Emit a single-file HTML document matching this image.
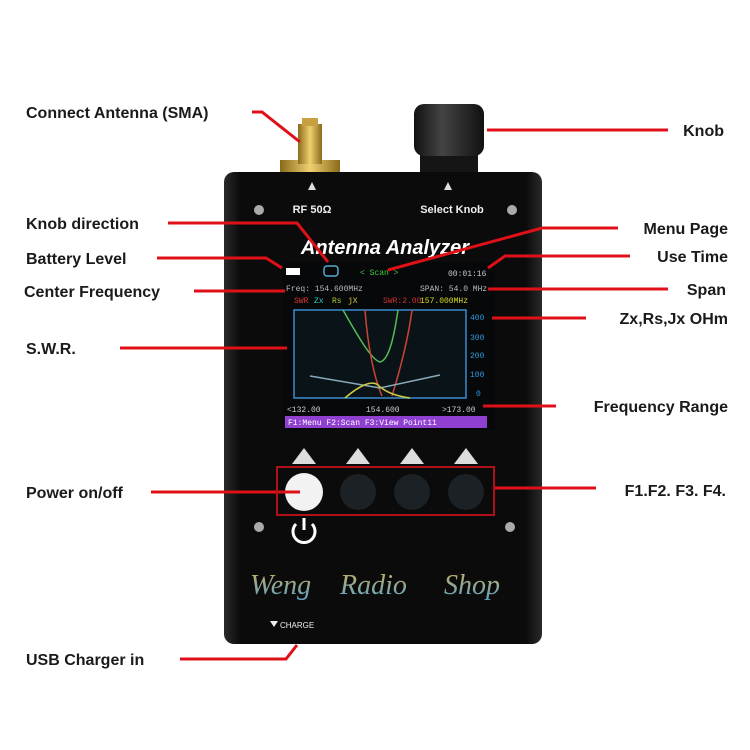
<!DOCTYPE html>
<html><head><meta charset="utf-8"><style>
html,body{margin:0;padding:0;background:#fff;}
svg{display:block}
.l{font-family:"Liberation Sans",Arial,sans-serif;font-weight:bold;font-size:16px;fill:#1a1a1a}
.m{font-family:"Liberation Mono",monospace;font-size:8px}
</style></head><body>
<svg width="750" height="750" viewBox="0 0 750 750" xmlns="http://www.w3.org/2000/svg">
<defs>
<linearGradient id="body" x1="0" x2="1"><stop offset="0" stop-color="#2a2a2a"/><stop offset="0.05" stop-color="#0b0b0b"/><stop offset="0.95" stop-color="#0b0b0b"/><stop offset="1" stop-color="#2a2a2a"/></linearGradient>
<linearGradient id="gold" x1="0" x2="1"><stop offset="0" stop-color="#8a6a1a"/><stop offset="0.5" stop-color="#f0d070"/><stop offset="1" stop-color="#8a6a1a"/></linearGradient>
<linearGradient id="knob" x1="0" x2="1"><stop offset="0" stop-color="#111"/><stop offset="0.4" stop-color="#444"/><stop offset="1" stop-color="#111"/></linearGradient>
<linearGradient id="brand" x1="0" x2="0" y1="0" y2="1"><stop offset="0" stop-color="#c8b060"/><stop offset="1" stop-color="#5aa0c8"/></linearGradient>
</defs>
<!-- SMA -->
<rect x="280" y="160" width="60" height="14" fill="url(#gold)"/>
<rect x="298" y="124" width="24" height="40" fill="url(#gold)"/>
<rect x="302" y="118" width="16" height="8" fill="#c8a040"/>
<!-- knob -->
<rect x="420" y="150" width="58" height="24" fill="#151515"/>
<rect x="414" y="104" width="70" height="52" rx="10" fill="url(#knob)"/>
<!-- body -->
<rect x="224" y="172" width="318" height="472" rx="10" fill="url(#body)"/>
<!-- screws -->
<circle cx="259" cy="210" r="5" fill="#aaa"/><circle cx="512" cy="210" r="5" fill="#aaa"/>
<circle cx="259" cy="527" r="5" fill="#aaa"/><circle cx="510" cy="527" r="5" fill="#aaa"/>
<polygon points="308,190 316,190 312,182" fill="#ddd"/>
<polygon points="444,190 452,190 448,182" fill="#ddd"/>
<text x="312" y="213" text-anchor="middle" font-family="Liberation Sans,sans-serif" font-weight="bold" font-size="11" fill="#eee">RF 50Ω</text>
<text x="452" y="213" text-anchor="middle" font-family="Liberation Sans,sans-serif" font-weight="bold" font-size="11" fill="#eee">Select Knob</text>
<text x="385" y="254" text-anchor="middle" font-family="Liberation Sans,sans-serif" font-weight="bold" font-style="italic" font-size="20" fill="#fff">Antenna Analyzer</text>
<!-- screen -->
<rect x="283" y="262" width="212" height="168" fill="#06080a"/>
<rect x="286" y="268" width="14" height="7" fill="#fff"/>
<rect x="324" y="266" width="14" height="10" rx="3" fill="none" stroke="#5ac" stroke-width="1.5"/>
<text x="360" y="275" class="m" fill="#4c4">&lt; Scan &gt;</text>
<text x="448" y="276" class="m" fill="#ccc">00:01:16</text>
<text x="286" y="291" class="m" fill="#bbb">Freq: 154.600MHz</text>
<text x="420" y="291" class="m" fill="#bbb">SPAN: 54.0 MHz</text>
<text x="294" y="303" class="m" fill="#d33">SWR</text><text x="314" y="303" class="m" fill="#3cc">Zx</text><text x="332" y="303" class="m" fill="#ac3">Rs</text><text x="348" y="303" class="m" fill="#dc3">jX</text>
<text x="383" y="303" class="m" fill="#c33">SWR:2.00</text><text x="420" y="303" class="m" fill="#dd2">157.000MHz</text>
<rect x="294" y="310" width="172" height="88" fill="#0a1418" stroke="#3a8ad0" stroke-width="1.5"/>
<path d="M343,310 C360,340 372,360 380,362 C390,360 395,330 398,310" stroke="#5b5" fill="none" stroke-width="1.5"/>
<path d="M365,310 C368,350 375,380 382,396 M392,396 C400,370 408,340 412,310" stroke="#c43" fill="none" stroke-width="1.5"/>
<path d="M310,376 L380,388 L440,375" stroke="#8ab" fill="none" stroke-width="1.5"/>
<path d="M345,398 C360,385 372,380 378,385 C385,392 395,396 410,398" stroke="#cc4" fill="none" stroke-width="1.5"/>
<text x="470" y="320" class="m" fill="#39d">400</text><text x="470" y="340" class="m" fill="#39d">300</text><text x="470" y="358" class="m" fill="#39d">200</text><text x="470" y="377" class="m" fill="#39d">100</text><text x="476" y="396" class="m" fill="#39d">0</text>
<text x="287" y="412" class="m" fill="#ccc">&lt;132.00</text><text x="366" y="412" class="m" fill="#ccc">154.600</text><text x="442" y="412" class="m" fill="#ccc">&gt;173.00</text>
<rect x="285" y="416" width="202" height="12" fill="#9040d0"/>
<text x="288" y="425" class="m" fill="#fff">F1:Menu F2:Scan F3:View Point11</text>
<!-- buttons -->
<polygon points="292,464 316,464 304,448" fill="#ddd"/>
<polygon points="346,464 370,464 358,448" fill="#ddd"/>
<polygon points="400,464 424,464 412,448" fill="#ddd"/>
<polygon points="454,464 478,464 466,448" fill="#ddd"/>
<circle cx="304" cy="492" r="19" fill="#f2f2f2"/>
<circle cx="358" cy="492" r="18" fill="#1b2124"/>
<circle cx="412" cy="492" r="18" fill="#1b2124"/>
<circle cx="466" cy="492" r="18" fill="#1b2124"/>
<path d="M296,524 A11,11 0 1 0 312,524" stroke="#fff" stroke-width="3" fill="none"/>
<line x1="304" y1="518" x2="304" y2="530" stroke="#fff" stroke-width="3"/>
<text x="250" y="594" font-family="Liberation Serif,serif" font-style="italic" font-size="28" fill="url(#brand)">Weng</text>
<text x="340" y="594" font-family="Liberation Serif,serif" font-style="italic" font-size="28" fill="url(#brand)">Radio</text>
<text x="444" y="594" font-family="Liberation Serif,serif" font-style="italic" font-size="28" fill="url(#brand)">Shop</text>
<polygon points="270,621 278,621 274,627" fill="#eee"/>
<text x="280" y="628" font-family="Liberation Sans,sans-serif" font-size="8" fill="#eee">CHARGE</text>
<!-- red lines -->
<g stroke="#e01018" stroke-width="3" fill="none">
<polyline points="252,112 262,112 300,142"/>
<line x1="487" y1="130" x2="668" y2="130"/>
<polyline points="168,223 297,223 328,262"/>
<polyline points="618,228 542,228 388,270"/>
<polyline points="157,258 266,258 282,268"/>
<polyline points="630,256 505,256 488,268"/>
<line x1="194" y1="291" x2="285" y2="291"/>
<line x1="488" y1="289" x2="668" y2="289"/>
<line x1="492" y1="318" x2="586" y2="318"/>
<line x1="120" y1="348" x2="287" y2="348"/>
<line x1="483" y1="406" x2="556" y2="406"/>
<line x1="151" y1="492" x2="300" y2="492"/>
<line x1="494" y1="488" x2="596" y2="488"/>
<polyline points="180,659 286,659 297,645"/>
</g>
<rect x="277" y="467" width="217" height="48" fill="none" stroke="#b01018" stroke-width="2"/>
<!-- labels -->
<text class="l" x="26" y="118">Connect Antenna (SMA)</text>
<text class="l" x="724" y="136" text-anchor="end">Knob</text>
<text class="l" x="26" y="229">Knob direction</text>
<text class="l" x="728" y="234" text-anchor="end">Menu Page</text>
<text class="l" x="26" y="264">Battery Level</text>
<text class="l" x="728" y="262" text-anchor="end">Use Time</text>
<text class="l" x="24" y="297">Center Frequency</text>
<text class="l" x="726" y="295" text-anchor="end">Span</text>
<text class="l" x="728" y="324" text-anchor="end">Zx,Rs,Jx OHm</text>
<text class="l" x="26" y="354">S.W.R.</text>
<text class="l" x="728" y="412" text-anchor="end">Frequency Range</text>
<text class="l" x="26" y="498">Power on/off</text>
<text class="l" x="726" y="496" text-anchor="end">F1.F2. F3. F4.</text>
<text class="l" x="26" y="665">USB Charger in</text>
</svg>
</body></html>
